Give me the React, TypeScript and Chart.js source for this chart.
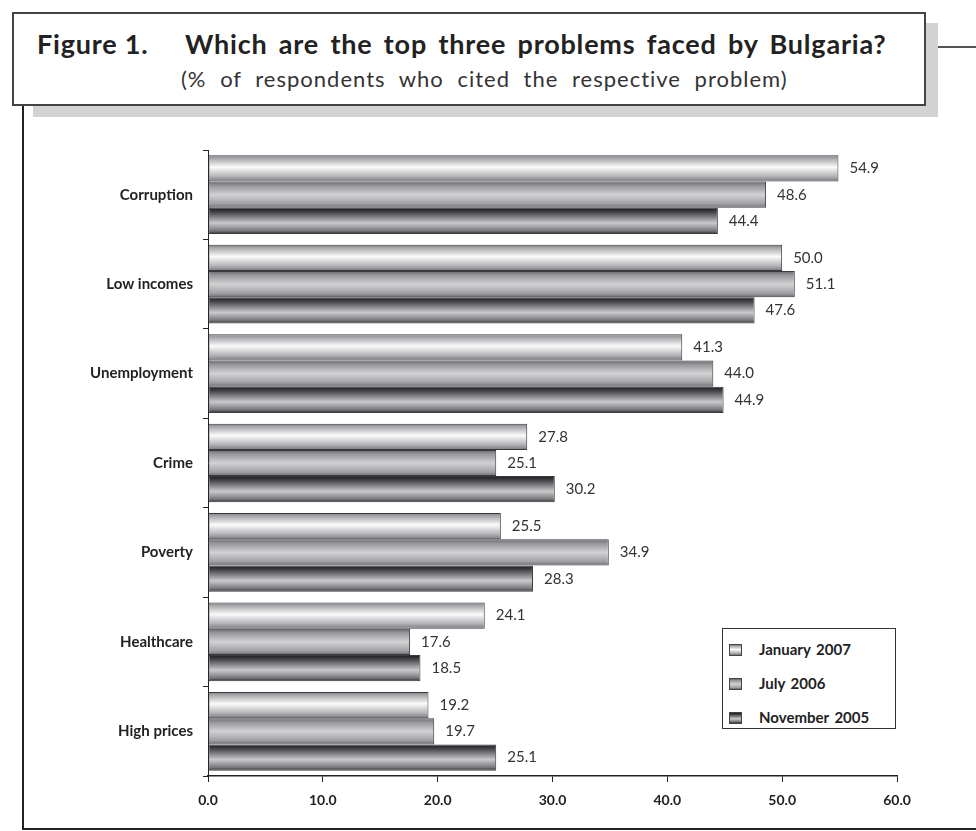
import React, { useEffect, useRef } from "react";
import { Chart, registerables } from "chart.js";

Chart.register(...registerables);

const categories = ["Corruption", "Low incomes", "Unemployment", "Crime", "Poverty", "Healthcare", "High prices"];
const seriesNames = ["January 2007", "July 2006", "November 2005"];
const jan2007 = [54.9, 50.0, 41.3, 27.8, 25.5, 24.1, 19.2];
const jul2006 = [48.6, 51.1, 44.0, 25.1, 34.9, 17.6, 19.7];
const nov2005 = [44.4, 47.6, 44.9, 30.2, 28.3, 18.5, 25.1];
const xTicks = [0, 10, 20, 30, 40, 50, 60];

const FONT = "Lato, 'Open Sans', sans-serif";
const CAT_PCT = 0.88;

const gradStops: [number, string][][] = [
  [[0, "#7f7f84"], [0.12, "#a9a9ad"], [0.45, "#fbfbfb"], [0.8, "#b4b4b8"], [1, "#77777c"]],
  [[0, "#66666b"], [0.15, "#96969a"], [0.5, "#d2d2d5"], [0.85, "#a0a0a4"], [1, "#67676c"]],
  [[0, "#19191c"], [0.18, "#4a4a4e"], [0.58, "#cacacd"], [0.88, "#77777b"], [1, "#2a2a2e"]],
];

const cssGrad = (stops: [number, string][]) =>
  `linear-gradient(to bottom, ${stops.map(([p, c]) => `${c} ${p * 100}%`).join(", ")})`;

const makeBg = (di: number) => (ctx: any) => {
  const chart = ctx.chart;
  const y = chart.scales && chart.scales.y;
  const stops = gradStops[di];
  if (!y || ctx.type !== "data" || !isFinite(y.top)) return stops[2][1];
  const n = categories.length;
  const cat = (y.bottom - y.top) / n;
  const group = cat * CAT_PCT;
  const barH = group / 3;
  const center = y.getPixelForValue(ctx.dataIndex);
  const top = center - group / 2 + di * barH;
  const g = chart.ctx.createLinearGradient(0, top, 0, top + barH);
  stops.forEach(([p, c]) => g.addColorStop(p, c));
  return g;
};

const valueLabels = {
  id: "valueLabels",
  afterDatasetsDraw(chart: any) {
    const c = chart.ctx;
    c.save();
    c.font = `15px ${FONT}`;
    c.fillStyle = "#333";
    c.textAlign = "left";
    c.textBaseline = "middle";
    chart.data.datasets.forEach((ds: any, di: number) => {
      const meta = chart.getDatasetMeta(di);
      meta.data.forEach((bar: any, i: number) => {
        c.fillText(Number(ds.data[i]).toFixed(1), bar.x + 11, bar.y);
      });
    });
    c.restore();
  },
};

function BarChart() {
  const ref = useRef<HTMLCanvasElement | null>(null);
  useEffect(() => {
    if (!ref.current) return;
    const data = [jan2007, jul2006, nov2005];
    const chart = new Chart(ref.current, {
      type: "bar",
      data: {
        labels: categories,
        datasets: seriesNames.map((name, di) => ({
          label: name,
          data: data[di],
          backgroundColor: makeBg(di),
          borderColor: "#3a3a3e",
          borderWidth: 1,
          borderSkipped: false,
          categoryPercentage: CAT_PCT,
          barPercentage: 1,
        })),
      },
      options: {
        indexAxis: "y",
        responsive: false,
        animation: false,
        events: [],
        layout: { padding: { top: 150, right: 79, bottom: 15, left: 0 } },
        plugins: { legend: { display: false }, tooltip: { enabled: false } },
        scales: {
          x: {
            min: 0,
            max: 60,
            afterBuildTicks: (s: any) => {
              s.ticks = xTicks.map((v) => ({ value: v }));
            },
            afterFit: (s: any) => {
              s.height = 40;
            },
            ticks: {
              callback: (v: any) => Number(v).toFixed(1),
              font: { family: FONT, size: 14, weight: "bold" },
              color: "#222",
              padding: 10,
              maxRotation: 0,
            },
            grid: { drawOnChartArea: false, drawTicks: true, tickLength: 6, color: "#222", lineWidth: 1 },
            border: { display: true, color: "#222", width: 1.5 },
          },
          y: {
            afterFit: (s: any) => {
              s.width = 208;
            },
            ticks: {
              font: { family: FONT, size: 15, weight: "bold" },
              color: "#222",
              padding: 10,
            },
            grid: { drawOnChartArea: false, drawTicks: true, tickLength: 5, color: "#222", lineWidth: 1, offset: true },
            border: { display: true, color: "#222", width: 1 },
          },
        },
      } as any,
      plugins: [valueLabels],
    });
    return () => chart.destroy();
  }, []);
  return (
    <canvas
      ref={ref}
      width={976}
      height={831}
      style={{ position: "absolute", left: 0, top: 0, width: 976, height: 831 }}
    />
  );
}

export default function App() {
  const abs = (s: React.CSSProperties): React.CSSProperties => ({ position: "absolute", ...s });
  return (
    <div style={abs({ left: 0, top: 0, width: 976, height: 831, background: "#fff", overflow: "hidden", fontFamily: FONT })}>
      {/* frame lines */}
      <div style={abs({ left: 22, top: 106, width: 2, height: 724, background: "#222" })} />
      <div style={abs({ left: 22, top: 828, width: 954, height: 2, background: "#222" })} />
      <div style={abs({ left: 938, top: 46, width: 38, height: 2, background: "#555" })} />
      {/* shadow */}
      <div style={abs({ left: 33, top: 23, width: 905, height: 94, background: "#d3d3d5" })} />
      {/* title box */}
      <div style={abs({ left: 12, top: 12, width: 910, height: 90, background: "#fff", border: "2px solid #444" })} />
      <div style={abs({ left: 37, top: 29, fontSize: 27, fontWeight: 700, color: "#222", lineHeight: "30px", whiteSpace: "nowrap", letterSpacing: 0.8 })}>
        Figure 1.
      </div>
      <div style={abs({ left: 185, top: 29, fontSize: 27, fontWeight: 700, color: "#222", lineHeight: "30px", whiteSpace: "nowrap", letterSpacing: 0.8, wordSpacing: 4 })}>
        Which are the top three problems faced by Bulgaria?
      </div>
      <div style={abs({ left: 181, top: 66, fontSize: 22, fontWeight: 400, color: "#333", lineHeight: "26px", whiteSpace: "nowrap", letterSpacing: 1, wordSpacing: 7 })}>
        (% of respondents who cited the respective problem)
      </div>
      <BarChart />
      {/* legend */}
      <div style={abs({ left: 722, top: 628, width: 172, height: 99, background: "#fff", border: "1.5px solid #333" })} />
      {seriesNames.map((name, i) => (
        <React.Fragment key={name}>
          <div
            style={abs({
              left: 729,
              top: 644 + i * 34,
              width: 11,
              height: 10,
              border: "1px solid #444",
              background: cssGrad(gradStops[i]),
            })}
          />
          <div style={abs({ left: 759, top: 640 + i * 34, fontSize: 15, fontWeight: 700, color: "#222", lineHeight: "18px", whiteSpace: "nowrap", wordSpacing: 2 })}>
            {name}
          </div>
        </React.Fragment>
      ))}
    </div>
  );
}
